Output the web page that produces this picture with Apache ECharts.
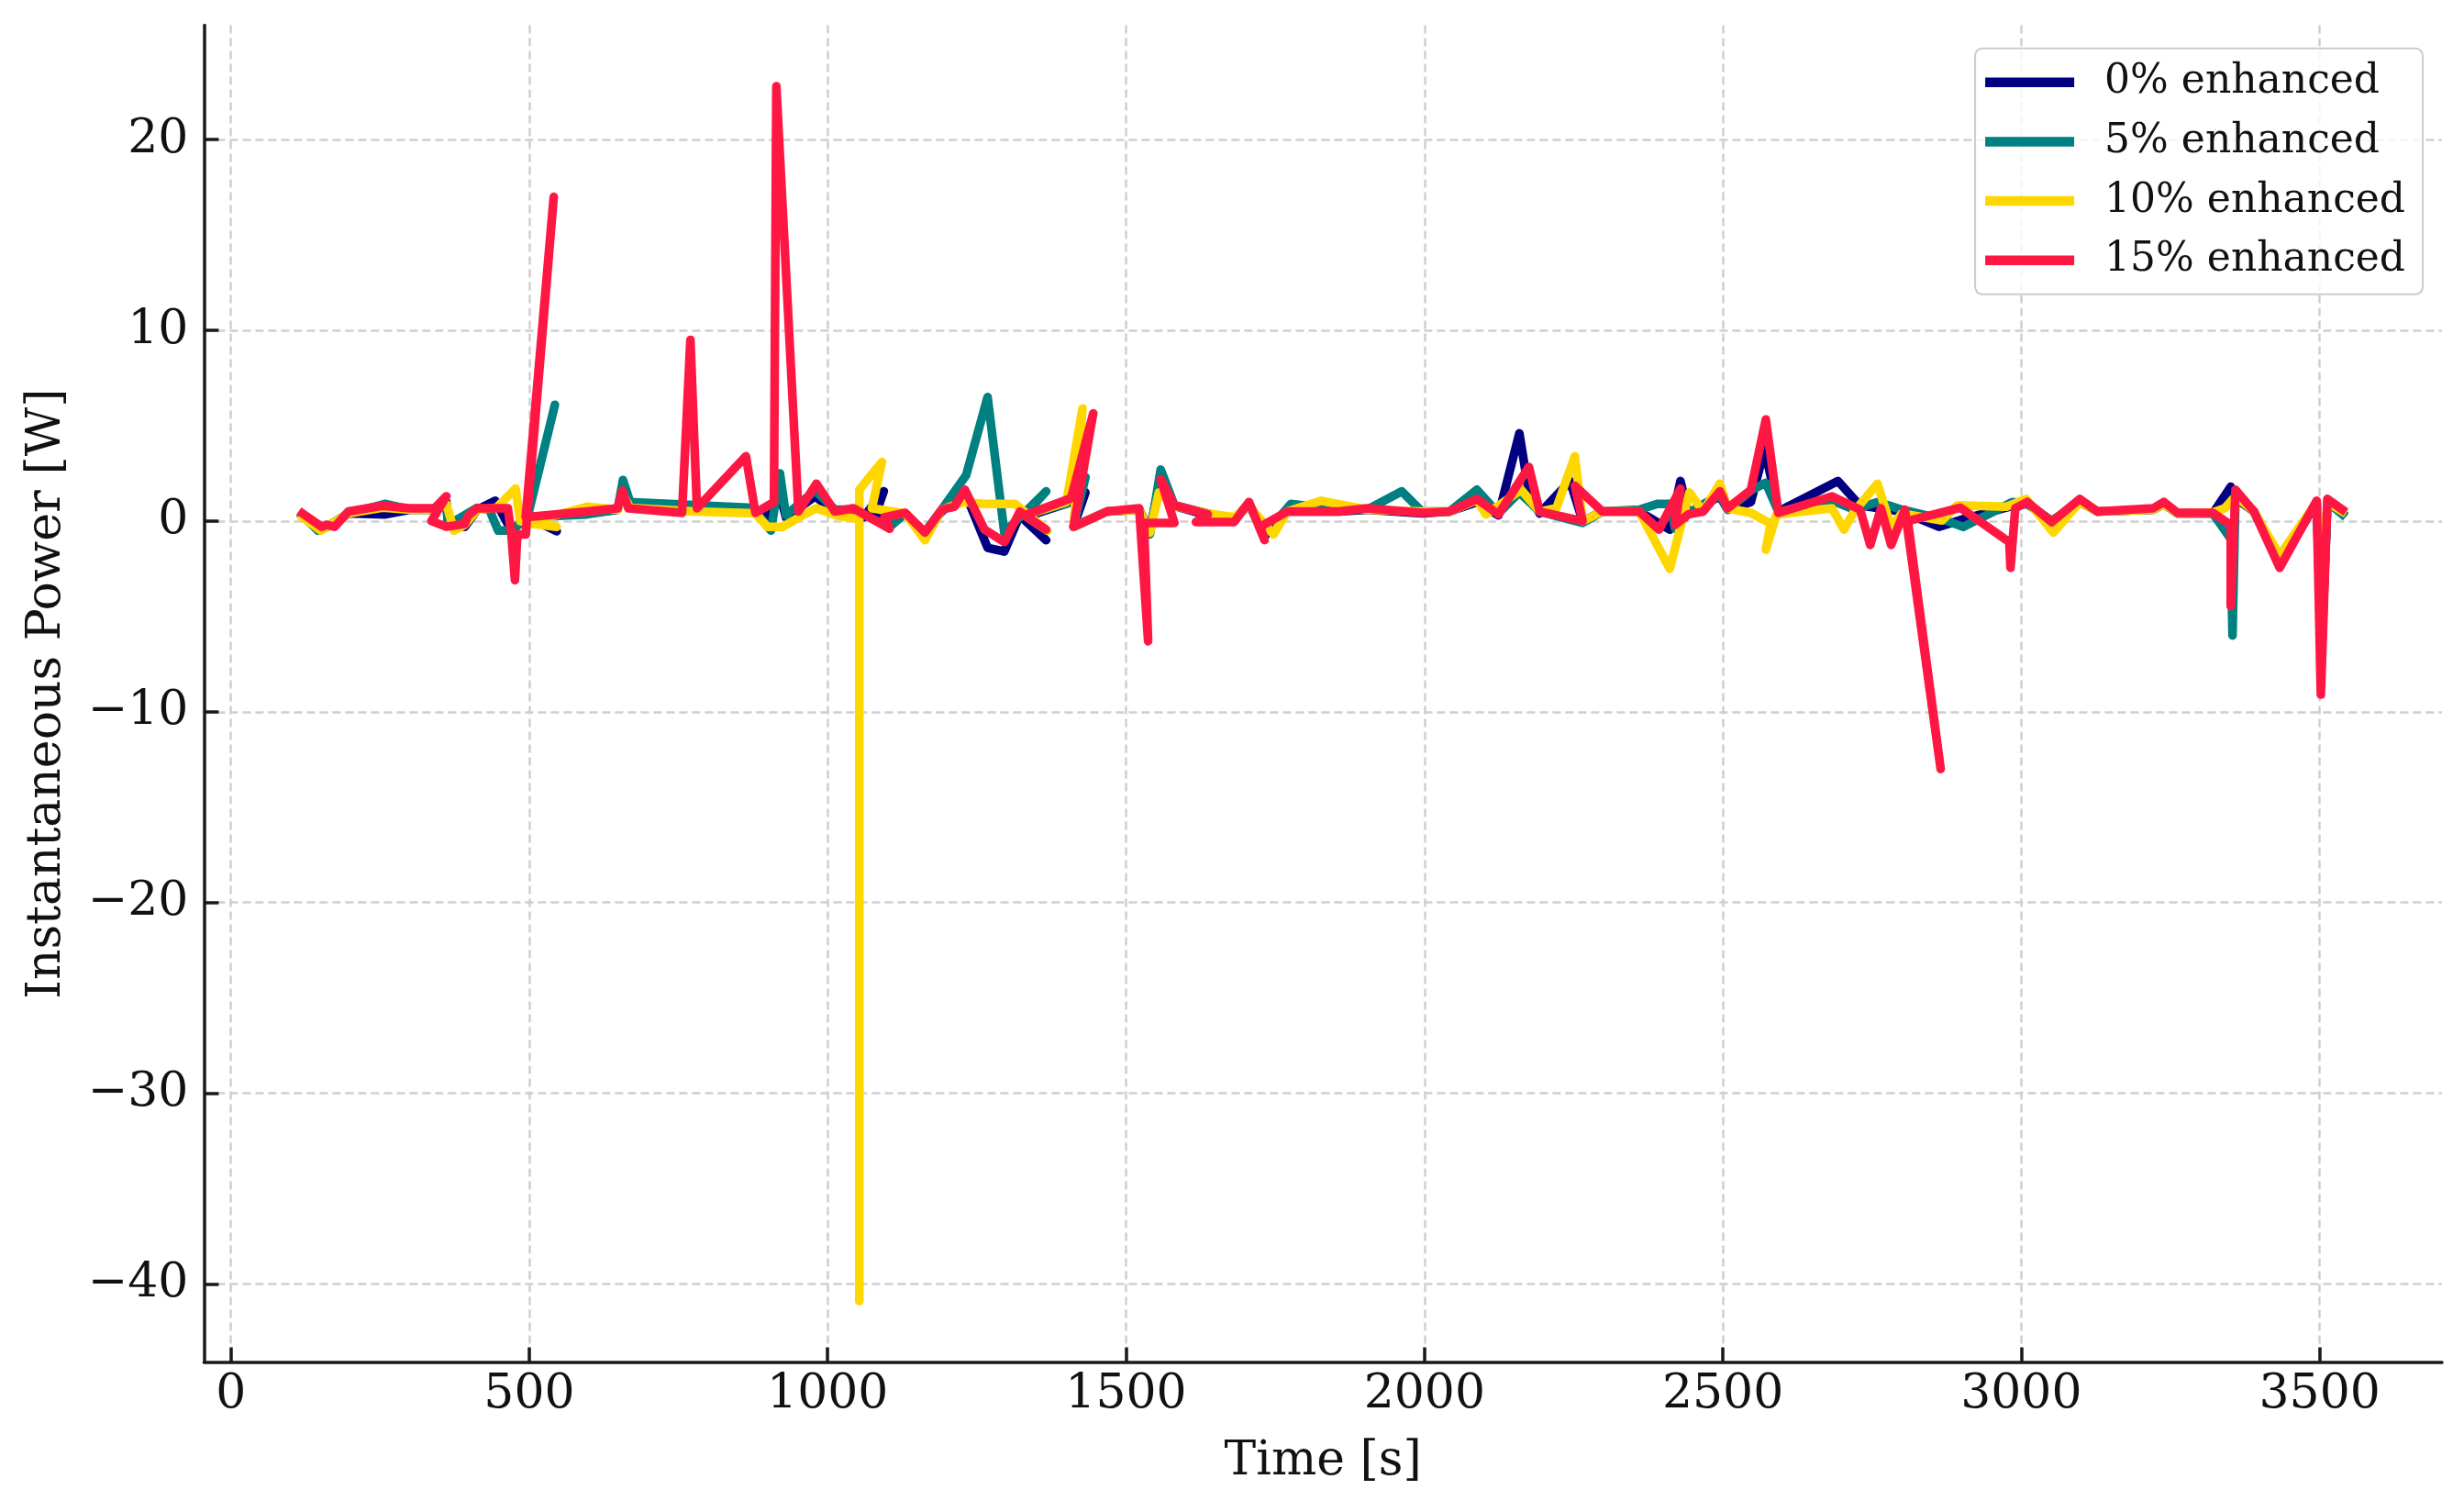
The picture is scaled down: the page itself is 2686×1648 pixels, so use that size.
<!DOCTYPE html>
<html>
<head>
<meta charset="utf-8">
<script src="https://cdn.jsdelivr.net/npm/echarts@6/dist/echarts.min.js"></script>
<style>
  html, body { margin: 0; padding: 0; background: #ffffff; }
  #chart { width: 2686px; height: 1648px; }
</style>
</head>
<body>
<div id="chart"></div>
<script>
// ---- Data ----
const seriesNames = ['0% enhanced', '5% enhanced', '10% enhanced', '15% enhanced'];
const seriesColors = ['#000080', '#008080', '#ffd700', '#ff1744'];
const xTicks = [0, 500, 1000, 1500, 2000, 2500, 3000, 3500];
const yTicks = [-40, -30, -20, -10, 0, 10, 20];

// 0% enhanced
const time0 = [120,152,161,197,259,300,341,361,364,392,413,443,470,497,546,497,597,648,657,669,874,905,917,930,979,1012,1043,1060,1094,1080,1130,1163,1191,1230,1268,1296,1322,1366,1330,1408,1432,1412,1468,1522,1540,1558,1581,1637,1681,1706,1732,1770,1857,1904,1996,2042,2088,2124,2159,2175,2193,2244,2265,2298,2360,2411,2429,2442,2495,2508,2547,2570,2593,2693,2729,2800,2862,2903,2985,3010,3051,3098,3128,3221,3239,3262,3321,3351,3359,3390,3433,3495,3503,3513,3538];
const power0 = [0.3,-0.4,-0.3,0.4,0.35,0.6,0.6,1.0,-0.2,-0.3,0.6,1.07,-0.5,0.2,-0.53,0.2,0.4,0.6,1.8,0.8,0.6,0.2,1.8,0.2,1.3,0.5,0.6,0.2,1.56,0.3,0.4,-0.6,0.5,1.5,-1.4,-1.6,0.3,-1.0,0.2,1.0,1.5,-0.3,0.5,0.6,-0.5,2.3,0.8,0.3,0.1,0.9,-0.8,0.5,0.5,0.6,0.4,0.5,1.0,0.3,4.6,1.5,0.4,2.1,0.0,0.5,0.5,-0.45,2.1,0.4,1.3,0.6,1.0,3.8,0.5,2.1,0.83,0.5,-0.3,0.1,0.8,0.9,0.0,1.0,0.5,0.6,0.9,0.4,0.4,1.8,1.2,0.5,-2.3,1.0,-7.2,1.0,0.4];

// 5% enhanced
const time5 = [120,146,161,197,258,300,341,361,364,413,433,448,470,497,543,497,597,648,657,669,874,905,920,930,979,1012,1043,1104,1130,1163,1191,1232,1268,1296,1366,1330,1408,1432,1412,1468,1522,1540,1558,1581,1637,1681,1706,1732,1776,1857,1904,1962,1996,2042,2088,2124,2159,2193,2265,2298,2360,2390,2411,2420,2442,2495,2508,2549,2572,2593,2683,2720,2759,2800,2867,2903,2985,3010,3051,3098,3128,3221,3239,3262,3321,3351,3354,3359,3390,3433,3495,3505,3513,3538];
const power5 = [0.3,-0.5,-0.3,0.4,0.9,0.6,0.6,0.9,-0.2,0.7,0.6,-0.5,-0.5,0.2,6.1,0.2,0.35,0.6,2.15,1.0,0.7,-0.5,2.5,0.3,1.6,0.6,0.6,-0.3,0.4,-0.6,0.6,2.4,6.5,-0.6,1.56,0.3,1.0,2.3,-0.3,0.5,0.6,-0.7,2.7,0.83,0.4,0.1,0.9,-0.7,0.9,0.6,0.6,1.56,0.5,0.5,1.64,0.4,1.5,0.5,-0.1,0.5,0.6,0.9,0.9,-0.4,0.4,1.4,0.6,1.64,2.0,0.5,1.07,0.6,1.0,0.6,0.1,-0.3,1.0,0.9,0.0,1.0,0.5,0.6,0.9,0.4,0.4,-0.93,-6.0,1.4,0.5,-2.2,1.0,-5.0,1.0,0.35];

// 10% enhanced
const time10 = [120,151,161,197,254,300,341,361,374,392,413,445,477,485,546,495,597,648,657,669,776,879,899,925,956,981,1017,1053,1053,1053,1091,1074,1130,1163,1191,1227,1263,1314,1368,1330,1400,1427,1412,1468,1522,1540,1555,1581,1637,1681,1706,1747,1770,1827,1837,1904,1996,2042,2088,2103,2162,2193,2221,2252,2265,2298,2360,2411,2444,2467,2495,2508,2547,2580,2572,2590,2683,2703,2720,2759,2782,2800,2867,2893,2975,3008,3054,3098,3128,3221,3239,3262,3321,3341,3359,3390,3433,3495,3505,3513,3538];
const power10 = [0.2,-0.5,-0.3,0.4,0.7,0.6,0.6,0.9,-0.5,-0.2,0.6,0.7,1.7,0.0,-0.3,-0.1,0.75,0.6,1.4,0.7,0.5,0.4,-0.3,-0.3,0.27,0.67,0.27,0.1,-40.9,1.64,3.1,0.67,0.4,-1.0,0.6,1.0,0.9,0.9,-0.5,0.3,1.0,5.9,-0.3,0.5,0.6,-0.6,1.5,0.8,0.4,0.2,0.8,-0.7,0.5,1.07,1.0,0.6,0.5,0.5,1.1,0.35,1.64,0.5,0.67,3.4,0.0,0.5,0.5,-2.5,1.5,0.5,1.96,0.67,0.43,-0.13,-1.5,0.35,0.67,-0.45,0.5,1.96,-0.3,0.4,0.03,0.83,0.75,1.16,-0.6,1.0,0.5,0.6,0.9,0.4,0.45,0.67,1.3,0.5,-1.8,1.0,-3.7,1.0,0.5];

// 15% enhanced
const time15 = [120,152,161,174,197,254,300,341,361,336,361,392,397,412,464,470,476,480,494,541,494,597,648,656,666,756,770,781,863,879,910,914,951,981,1012,1043,1104,1095,1130,1163,1191,1212,1230,1263,1296,1322,1366,1330,1408,1445,1412,1468,1522,1537,1530,1581,1558,1581,1637,1617,1681,1706,1732,1725,1770,1857,1904,1996,2042,2088,2124,2175,2193,2265,2252,2298,2360,2393,2429,2420,2442,2467,2495,2508,2547,2572,2593,2683,2730,2747,2765,2782,2805,2865,2810,2898,2980,2982,2990,3010,3051,3098,3128,3221,3239,3262,3321,3351,3351,3359,3390,3433,3495,3502,3513,3538];
const power15 = [0.4,-0.3,-0.2,-0.3,0.5,0.8,0.67,0.67,1.3,0.0,-0.3,-0.15,0.27,0.67,0.67,-0.7,-3.1,-0.7,-0.7,17.0,0.2,0.5,0.67,1.6,0.67,0.43,9.5,0.67,3.4,0.43,1.0,22.8,0.5,1.96,0.5,0.67,-0.4,0.2,0.43,-0.6,0.6,0.75,1.64,-0.45,-1.1,0.5,-0.45,0.3,1.2,5.65,-0.3,0.5,0.67,-6.3,-0.1,-0.1,2.2,0.83,0.35,-0.05,-0.05,1.0,-1.0,-0.3,0.5,0.5,0.67,0.43,0.5,1.16,0.35,2.84,0.5,0.0,1.85,0.5,0.5,-0.45,1.7,-0.2,0.35,0.5,1.56,0.67,1.64,5.33,0.43,1.3,0.6,-1.25,0.67,-1.25,0.6,-13.0,0.0,0.7,-1.1,-2.45,0.67,1.0,-0.05,1.16,0.5,0.67,1.0,0.43,0.43,-0.2,-4.46,1.64,0.5,-2.45,1.07,-9.1,1.16,0.6];

const times = [time0, time5, time10, time15];
const powers = [power0, power5, power10, power15];

// ---- Chart ----
const FONT = '"DejaVu Serif", "Liberation Serif", serif';
const chart = echarts.init(document.getElementById('chart'), null, { renderer: 'canvas' });

const series = seriesNames.map((name, i) => ({
  name: name,
  type: 'line',
  showSymbol: false,
  symbol: 'none',
  animation: false,
  data: times[i].map((t, k) => [t, powers[i][k]]),
  lineStyle: { color: seriesColors[i], width: 9.5, join: 'round', cap: 'square' },
  itemStyle: { color: seriesColors[i] },
  z: 2 + i
}));

const minusFmt = v => String(v).replace('-', '\u2212');

chart.setOption({
  backgroundColor: '#ffffff',
  animation: false,
  grid: { left: 222.4, right: 24, top: 27.5, bottom: 163.4, containLabel: false },
  legend: {
    orient: 'vertical',
    right: 45,
    top: 52.7,
    data: seriesNames,
    icon: 'rect',
    itemWidth: 97,
    itemHeight: 10.5,
    itemGap: 8.7,
    padding: [9, 19, 9, 11],
    backgroundColor: 'rgba(255,255,255,0.8)',
    borderColor: '#cccccc',
    borderWidth: 2,
    borderRadius: 8,
    textStyle: {
      fontFamily: FONT,
      fontSize: 44,
      color: '#111111',
      lineHeight: 56,
      padding: [0, 0, 0, 28]
    }
  },
  xAxis: {
    type: 'value',
    min: -45,
    max: 3705,
    name: 'Time [s]',
    nameLocation: 'middle',
    nameGap: 83,
    nameTextStyle: { fontFamily: FONT, fontSize: 52, color: '#111111' },
    axisLine: { show: true, onZero: false, lineStyle: { color: '#1a1a1a', width: 3.5 } },
    axisTick: { show: true, inside: true, length: 16, customValues: xTicks, lineStyle: { color: '#1a1a1a', width: 3.5 } },
    axisLabel: { show: true, customValues: xTicks, margin: 10, fontFamily: FONT, fontSize: 52, color: '#111111', formatter: minusFmt },
    splitLine: { show: true, lineStyle: { color: '#cfcfcf', width: 2.5, type: [9, 5] } }
  },
  yAxis: {
    type: 'value',
    min: -44.1,
    max: 26.0,
    name: 'Instantaneous Power [W]',
    nameLocation: 'middle',
    nameGap: 145,
    nameTextStyle: { fontFamily: FONT, fontSize: 52, color: '#111111' },
    axisLine: { show: true, onZero: false, lineStyle: { color: '#1a1a1a', width: 3.5 } },
    axisTick: { show: true, inside: true, length: 16, customValues: yTicks, lineStyle: { color: '#1a1a1a', width: 3.5 } },
    axisLabel: { show: true, customValues: yTicks, margin: 17, fontFamily: FONT, fontSize: 52, color: '#111111', formatter: minusFmt },
    splitLine: { show: true, lineStyle: { color: '#cfcfcf', width: 2.5, type: [9, 5] } }
  },
  series: series
});
</script>
</body>
</html>
